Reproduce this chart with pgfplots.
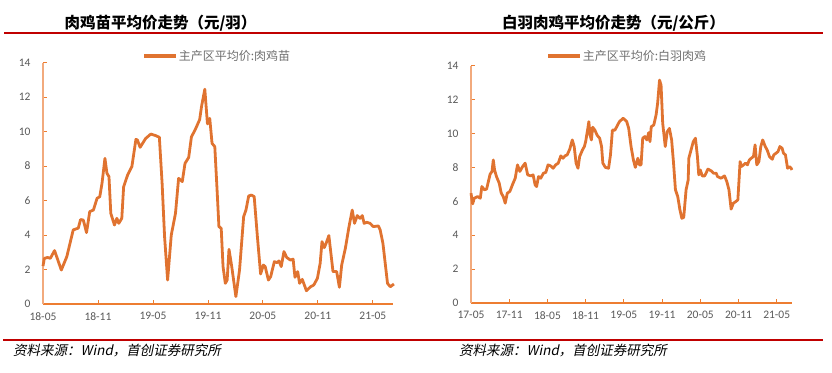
\documentclass[border=0pt]{standalone}
\usepackage{fontspec}
\setmainfont{Carlito}
\newfontfamily\cjk{Noto Sans CJK SC}
\newfontfamily\cjkit[FakeSlant=0.2]{Noto Sans CJK SC}
\usepackage{pgfplots}
\pgfplotsset{compat=1.18}
\usepackage{pgfplotstable}
\definecolor{lineor}{RGB}{224,115,48}
\definecolor{axor}{RGB}{237,125,49}
\definecolor{axyor}{RGB}{242,170,125}
\definecolor{tickgray}{RGB}{89,89,89}
\definecolor{leggray}{RGB}{110,110,110}
\definecolor{redline}{RGB}{192,0,0}

\pgfplotstableread{
m v
0 2.2
0.15 2.65
0.5 2.7
0.8 2.65
1.26 3.1
2.0 1.97
2.6 2.75
3.3 4.3
3.85 4.4
4.1 4.9
4.4 4.87
4.75 4.14
5.1 5.36
5.5 5.45
5.9 6.13
6.2 6.23
6.44 7.0
6.76 8.45
6.98 7.58
7.2 7.39
7.4 5.26
7.8 4.58
8.06 4.97
8.27 4.68
8.6 4.97
8.8 6.8
9.24 7.49
9.7 7.97
10.14 9.55
10.3 9.52
10.6 9.09
11.2 9.6
11.76 9.86
12.3 9.77
12.7 9.67
13.0 7.0
13.27 3.9
13.6 1.39
14.0 4.0
14.46 5.26
14.8 7.29
15.2 7.1
15.5 8.16
15.9 8.5
16.2 9.7
16.6 10.1
17.1 10.7
17.3 11.45
17.66 12.46
17.95 10.45
18.2 10.77
18.45 9.32
18.75 9.13
19.0 6.6
19.2 4.49
19.45 4.39
19.65 2.17
19.9 1.2
20.1 1.39
20.3 3.17
20.6 2.17
21.05 0.43
21.45 1.97
21.9 5.07
22.15 5.45
22.45 6.27
22.75 6.32
23.05 6.23
23.4 3.9
23.75 1.74
24.05 2.26
24.25 2.17
24.6 1.39
24.85 1.59
25.25 2.46
25.55 2.4
25.75 2.5
26.0 2.17
26.3 3.04
26.6 2.7
27.0 2.55
27.3 2.6
27.5 1.55
27.8 1.88
28.0 1.2
28.3 1.43
28.75 0.77
29.2 1.0
29.55 1.1
29.95 1.49
30.25 2.36
30.45 3.62
30.7 3.27
30.9 3.52
31.2 3.97
31.65 1.88
32.05 1.88
32.35 0.97
32.6 2.26
33.0 3.23
33.4 4.49
33.75 5.45
34.0 4.68
34.3 5.13
34.6 4.97
34.85 5.13
35.05 4.68
35.35 4.74
35.7 4.68
36.05 4.49
36.6 4.53
36.8 4.3
37.1 3.52
37.6 1.2
37.9 1.0
38.3 1.16
}\chicks

\pgfplotstableread{
m v
0 6.48
0.26 5.85
0.5 6.18
1.04 6.28
1.46 6.18
1.7 6.87
2.1 6.68
2.45 6.72
3.0 7.6
3.3 7.76
3.5 8.44
3.7 7.85
4.0 7.46
4.43 7.07
4.75 6.48
5.06 6.28
5.37 5.89
5.7 6.48
6.1 6.58
6.5 6.97
6.94 7.36
7.3 8.15
7.67 7.76
8.1 8.05
8.5 8.25
8.9 7.56
9.4 7.5
9.75 7.56
10.07 6.97
10.3 6.87
10.6 7.46
10.95 7.36
11.37 7.66
11.74 7.7
12.1 8.15
12.5 8.09
12.9 7.95
13.3 8.15
13.7 8.25
14.1 8.68
14.45 8.54
14.76 8.68
15.1 8.74
15.5 9.07
15.9 9.62
16.2 9.23
16.5 8.25
16.8 7.95
17.06 8.64
17.5 9.03
17.8 9.23
18.0 9.52
18.3 10.2
18.5 10.7
18.7 9.9
18.9 9.62
19.1 10.37
19.45 10.2
19.8 9.9
20.2 9.72
20.5 9.23
20.7 8.25
21.1 8.0
21.6 7.95
21.9 8.74
22.2 10.2
22.6 10.2
22.95 10.45
23.3 10.7
23.9 10.9
24.45 10.7
24.76 10.3
25.13 9.23
25.5 8.44
25.8 8.0
26.2 8.54
26.44 8.15
26.7 8.15
26.96 9.72
27.3 9.82
27.6 9.62
27.9 10.05
28.1 9.52
28.3 10.4
28.7 10.5
29.06 11.1
29.3 11.78
29.6 13.15
29.84 12.86
30.1 10.6
30.5 9.23
30.8 10.1
31.15 10.3
31.5 9.62
31.8 8.25
32.1 6.68
32.46 6.28
32.8 5.5
33.1 5.0
33.4 5.05
33.77 6.68
34.1 7.26
34.2 8.54
34.55 9.03
34.9 9.52
35.24 9.72
35.55 8.64
35.76 7.56
36.0 7.85
36.3 7.5
36.7 7.5
37.2 7.9
37.7 7.8
38.06 7.66
38.5 7.66
38.7 7.46
39.27 7.36
39.8 7.5
40.16 7.17
40.5 6.68
40.84 5.54
41.2 5.89
41.6 5.99
41.9 6.09
42.25 8.34
42.46 8.05
42.8 8.15
43.1 8.25
43.4 8.15
43.7 8.44
44.0 8.54
44.35 8.64
44.6 9.33
44.87 8.15
45.2 8.34
45.5 9.23
45.8 9.62
46.2 9.23
46.5 9.03
46.86 8.64
47.3 8.48
47.54 8.74
47.9 8.84
48.2 8.93
48.5 9.23
48.85 9.13
49.06 8.84
49.37 8.74
49.7 7.95
50.0 8.05
50.26 7.95
50.4 7.85
}\broiler

\pgfplotsset{
  chartstyle/.style={
    scale only axis,
    anchor=south west,
    ymin=0, ymax=14,
    ytick={0,2,...,14},
    /pgf/number format/assume math mode=true,
    axis x line*=bottom,
    axis y line*=left,
    x axis line style={draw=axor, line width=1.1pt},
    y axis line style={draw=axyor, line width=1.1pt},
    tick align=inside,
    major tick length=4pt,
    xtick style={draw=axor, line width=0.8pt},
    ytick style={draw=axor, line width=0.8pt},
    tick label style={font=\fontsize{11.5}{13}\selectfont, text=tickgray},
    yticklabel style={xshift=-9pt},
    xticklabel style={yshift=-5pt},
    legend style={draw=none, fill=none, anchor=west,
      font=\cjk\fontsize{12}{14}\selectfont, text=leggray,
      inner xsep=0pt, inner ysep=0pt,
      nodes={inner xsep=1pt, inner ysep=0pt}},
    legend image code/.code={\draw[#1, line width=3.5pt] (0pt,0pt) -- (32pt,0pt);},
    clip=false,
  }
}

\begin{document}
\begin{tikzpicture}[x=1pt,y=1pt]
\path[use as bounding box] (0,0) rectangle (832,372);
\draw[redline, line width=1.1pt] (4,339) -- (823,339);
\draw[redline, line width=1.1pt] (3,32) -- (823,32);
\node[font=\cjk\bfseries\fontsize{15.5}{18}\selectfont] at (160.5,349) {肉鸡苗平均价走势（元/羽）};
\node[font=\cjk\bfseries\fontsize{15.5}{18}\selectfont] at (613.5,349) {白羽肉鸡平均价走势（元/公斤）};
\node[anchor=west, font=\cjkit\fontsize{13.5}{16}\selectfont, inner sep=0pt] at (13,21) {资料来源：Wind，首创证券研究所};
\node[anchor=west, font=\cjkit\fontsize{13.5}{16}\selectfont, inner sep=0pt] at (459,21) {资料来源：Wind，首创证券研究所};

\begin{axis}[chartstyle,
  at={(43pt,68pt)}, width=350pt, height=241.3pt,
  xmin=0, xmax=38.2,
  xtick={0,6,...,36},
  xticklabels={18-05,18-11,19-05,19-11,20-05,20-11,21-05},
  legend style={at={(0.283,1.028)}},
]
\addplot[lineor, line width=2.8pt, line join=round, no marks] table[x=m,y=v] {\chicks};
\addlegendentry{主产区平均价:肉鸡苗}
\end{axis}

\begin{axis}[chartstyle,
  at={(471pt,69pt)}, width=321pt, height=237.3pt,
  xmin=0, xmax=50.4,
  xtick={0,6,...,48},
  xticklabels={17-05,17-11,18-05,18-11,19-05,19-11,20-05,20-11,21-05},
  legend style={at={(0.234,1.041)}},
]
\addplot[lineor, line width=2.8pt, line join=round, no marks] table[x=m,y=v] {\broiler};
\addlegendentry{主产区平均价:白羽肉鸡}
\end{axis}
\end{tikzpicture}
\end{document}
